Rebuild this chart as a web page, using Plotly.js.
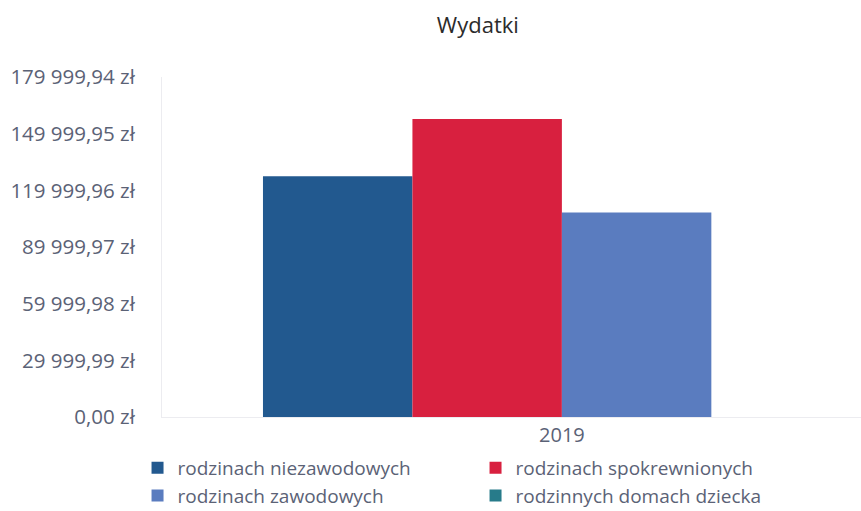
<!DOCTYPE html>
<html>
<head>
<meta charset="utf-8">
<script src="https://cdn.plot.ly/plotly-3.0.1.min.js"></script>
<style>html,body{margin:0;padding:0;background:#fff;}#chart{width:861px;height:511px;}</style>
</head>
<body>
<div id="chart"></div>
<script>
var categories = ['2019'];
var seriesNames = ['rodzinach niezawodowych', 'rodzinach spokrewnionych', 'rodzinach zawodowych', 'rodzinnych domach dziecka'];
var niezawodowych = [127400];
var spokrewnionych = [157700];
var zawodowych = [108300];
var domachDziecka = [0];
var tickValues = [0, 29999.99, 59999.98, 89999.97, 119999.96, 149999.95, 179999.94];
var tickLabels = ['0,00 zł', '29 999,99 zł', '59 999,98 zł', '89 999,97 zł', '119 999,96 zł', '149 999,95 zł', '179 999,94 zł'];

var colors = ['#22598f', '#d8203f', '#5a7cbf', '#277b8a'];
var values = [niezawodowych, spokrewnionych, zawodowych, domachDziecka];

var traces = values.map(function (v, i) {
  return {
    type: 'bar',
    x: categories,
    y: v,
    name: seriesNames[i],
    marker: {color: colors[i]},
    hoverinfo: 'none'
  };
});

var layout = {
  width: 861,
  height: 511,
  margin: {l: 162, r: 0, t: 77, b: 94, autoexpand: false},
  paper_bgcolor: '#ffffff',
  plot_bgcolor: '#ffffff',
  font: {family: '"Open Sans", sans-serif', color: '#5b6276', size: 20},
  title: {
    text: 'Wydatki',
    font: {family: '"Open Sans", sans-serif', size: 22, color: '#2b2b2b'},
    x: 0.555, xref: 'container', xanchor: 'center',
    y: 0.95, yref: 'container', yanchor: 'middle'
  },
  barmode: 'group',
  bargap: 0.2525,
  bargroupgap: 0,
  showlegend: true,
  legend: {
    orientation: 'h',
    x: -0.035, xanchor: 'left',
    y: -0.094, yanchor: 'top',
    entrywidth: 293,
    entrywidthmode: 'pixels',
    font: {family: '"Open Sans", sans-serif', size: 19, color: '#5b6276'},
    traceorder: 'normal',
    tracegroupgap: 0,
    itemclick: false
  },
  xaxis: {
    type: 'category',
    range: [-0.5, 0.374],
    showline: true,
    linecolor: '#ececf0',
    linewidth: 1,
    showgrid: false,
    zeroline: false,
    ticks: '',
    tickfont: {size: 20, color: '#5b6276'},
    fixedrange: true
  },
  yaxis: {
    range: [0, 179999.94],
    tickmode: 'array',
    tickvals: tickValues,
    ticktext: tickLabels,
    showline: true,
    linecolor: '#ececf0',
    linewidth: 1,
    showgrid: false,
    zeroline: false,
    ticks: '',
    ticklabelstandoff: 22,
    tickfont: {size: 20.5, color: '#5b6276'},
    fixedrange: true
  }
};

Plotly.newPlot('chart', traces, layout, {displayModeBar: false, staticPlot: true});
</script>
</body>
</html>
